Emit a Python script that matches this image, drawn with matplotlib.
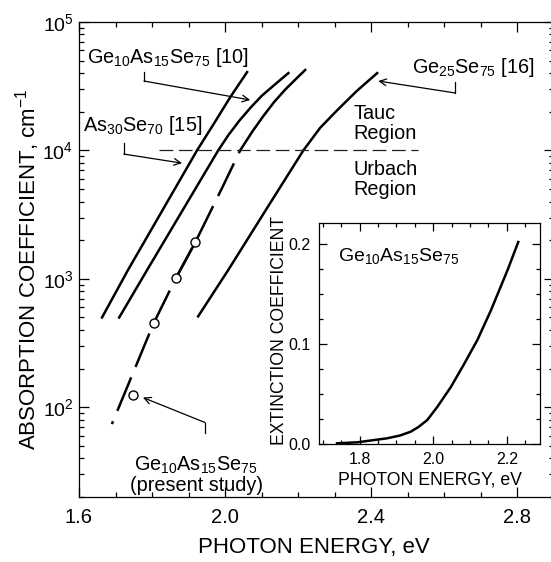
import matplotlib
matplotlib.use('Agg')
import matplotlib.pyplot as plt
from matplotlib.ticker import MultipleLocator, LogLocator, NullFormatter, LogFormatterMathtext

plt.rcParams['font.family'] = ['Liberation Sans', 'DejaVu Sans']
plt.rcParams['mathtext.fontset'] = 'custom'
plt.rcParams['mathtext.rm'] = 'Liberation Sans'
plt.rcParams['mathtext.default'] = 'regular'

# absorption edges (photon energy in eV, alpha in cm^-1)
as30_ev = [1.663, 1.734, 1.923, 1.970, 2.014, 2.060]
as30_alpha = [500, 1170, 10000, 16300, 26000, 40700]

ge10_ev = [1.710, 1.786, 1.981, 2.010, 2.040, 2.070, 2.100, 2.135, 2.173]
ge10_alpha = [500, 1166, 10000, 13300, 17200, 21600, 26600, 32400, 40000]

ge25_ev = [1.926, 2.008, 2.123, 2.214, 2.260, 2.307, 2.360, 2.416]
ge25_alpha = [510, 1166, 3880, 10000, 15000, 20600, 29000, 40000]

# present study: dashed (Urbach part) and solid (Tauc part)
study_low_ev = [1.690, 1.804, 1.866, 1.918, 1.994, 2.041]
study_low_alpha = [74, 449, 1023, 1919, 5270, 10000]
study_high_ev = [2.041, 2.075, 2.105, 2.135, 2.165, 2.195, 2.219]
study_high_alpha = [10000, 14100, 18600, 24000, 29900, 36300, 42300]
study_pts_ev = [1.748, 1.804, 1.866, 1.918]
study_pts_alpha = [124, 449, 1023, 1919]

# boundary between Tauc and Urbach regions
bound_ev = [1.819, 2.528]
bound_alpha = [1e4, 1e4]

# inset: extinction coefficient
k_ev = [1.739, 1.794, 1.875, 1.910, 1.939, 1.960, 1.984, 2.011, 2.048, 2.084,
        2.120, 2.156, 2.202, 2.231]
k_val = [0.0007, 0.0017, 0.0057, 0.0085, 0.0123, 0.017, 0.024, 0.037, 0.057,
         0.080, 0.104, 0.133, 0.174, 0.202]

W, H = 551, 562
fig = plt.figure(figsize=(W / 100, H / 100), dpi=100)
ax = fig.add_axes([79 / W, 65 / H, 475 / W, 475 / H])

lw = 1.8
ax.plot(as30_ev, as30_alpha, color='black', lw=lw)
ax.plot(ge10_ev, ge10_alpha, color='black', lw=lw)
ax.plot(ge25_ev, ge25_alpha, color='black', lw=lw)
ax.plot(study_low_ev, study_low_alpha, color='black', lw=lw,
        linestyle=(13.3, (14.5, 4.5)))
ax.plot(study_low_ev[2:4], study_low_alpha[2:4], color='black', lw=lw)
ax.plot(study_high_ev, study_high_alpha, color='black', lw=lw)
ax.plot(study_pts_ev, study_pts_alpha, 'o', ms=6.5, mfc='white', mec='black',
        mew=1.0, zorder=5)
ax.plot(bound_ev, bound_alpha, color='#222222', lw=0.9, linestyle=(0, (11, 4.5)))

ax.set_yscale('log')
ax.set_xlim(1.6, 2.9)
ax.set_ylim(20, 1e5)
ax.xaxis.set_major_locator(MultipleLocator(0.4))
ax.xaxis.set_minor_locator(MultipleLocator(0.1))
ax.yaxis.set_major_locator(LogLocator(base=10))
ax.yaxis.set_major_formatter(LogFormatterMathtext())
ax.yaxis.set_minor_locator(LogLocator(base=10, subs=range(2, 10)))
ax.yaxis.set_minor_formatter(NullFormatter())
ax.tick_params(which='both', direction='in', top=True, right=True,
               labelsize=14.5, width=0.9)
ax.tick_params(which='major', length=7, pad=8)
ax.tick_params(axis='y', which='major', pad=4, labelsize=14)
ax.tick_params(which='minor', length=3.5)
for s in ax.spines.values():
    s.set_linewidth(0.9)

fig.text(28 / W, 1 - 269 / H, 'ABSORPTION COEFFICIENT, cm$^{-1}$', rotation=90,
         ha='center', va='center', fontsize=16)
fig.text(314 / W, 1 - 548 / H, 'PHOTON ENERGY, eV', ha='center', va='center',
         fontsize=16)

fs = 14.3
akw = dict(arrowstyle='->', lw=0.9, color='black', shrinkA=0, shrinkB=0,
           mutation_scale=12)

ax.text(1.622, 52500, 'Ge$_{10}$As$_{15}$Se$_{75}$ [10]', fontsize=fs, va='center')
ax.plot([1.778, 1.778], [40700, 34700], color='black', lw=0.9)
ax.annotate('', xy=(2.0685, 24700), xytext=(1.778, 34700), arrowprops=akw)

ax.text(1.611, 15500, 'As$_{30}$Se$_{70}$ [15]', fontsize=fs, va='center')
ax.plot([1.723, 1.723], [11400, 9360], color='black', lw=0.9)
ax.annotate('', xy=(1.882, 7960), xytext=(1.723, 9360), arrowprops=akw)

ax.text(2.512, 44500, 'Ge$_{25}$Se$_{75}$ [16]', fontsize=fs, va='center')
ax.plot([2.630, 2.630], [34100, 28000], color='black', lw=0.9)
ax.annotate('', xy=(2.419, 34700), xytext=(2.630, 28000), arrowprops=akw)

ax.text(2.351, 16200, 'Tauc\nRegion', fontsize=fs, va='center', linespacing=1.05)
ax.text(2.351, 5900, 'Urbach\nRegion', fontsize=fs, va='center', linespacing=1.05)

ax.text(1.9205, 30, 'Ge$_{10}$As$_{15}$Se$_{75}$\n(present study)', fontsize=fs,
        ha='center', va='center', linespacing=1.0)
ax.plot([1.945, 1.945], [63, 76], color='black', lw=0.9)
ax.annotate('', xy=(1.775, 119), xytext=(1.945, 76), arrowprops=akw)

# inset
ins = fig.add_axes([319 / W, (H - 444) / H, 221 / W, 221 / H])
ins.plot(k_ev, k_val, color='black', lw=1.8)
ins.set_xlim(1.69, 2.29)
ins.set_ylim(0, 0.221)
ins.xaxis.set_major_locator(MultipleLocator(0.2))
ins.xaxis.set_minor_locator(MultipleLocator(0.05))
ins.yaxis.set_major_locator(MultipleLocator(0.1))
ins.yaxis.set_minor_locator(MultipleLocator(0.025))
ins.tick_params(which='both', direction='in', top=True, right=True,
                labelsize=11.5, width=0.9)
ins.tick_params(which='major', length=6, pad=6)
ins.tick_params(which='minor', length=3)
for s in ins.spines.values():
    s.set_linewidth(0.9)
ins.text(0.086, 0.85, 'Ge$_{10}$As$_{15}$Se$_{75}$', transform=ins.transAxes,
         fontsize=14, va='center')
fig.text(279 / W, 1 - 330 / H, 'EXTINCTION COEFFICIENT', rotation=90,
         ha='center', va='center', fontsize=12.7)
fig.text(430 / W, 1 - 480 / H, 'PHOTON ENERGY, eV', ha='center', va='center',
         fontsize=12.7)

fig.savefig('out.png', dpi=100)
